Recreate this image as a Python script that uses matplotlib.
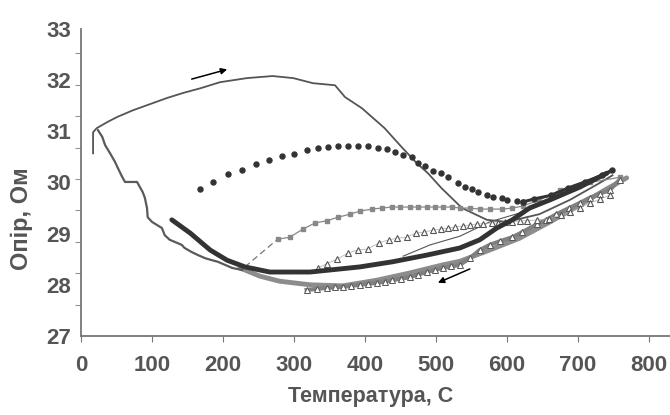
import matplotlib.pyplot as plt
from matplotlib.ticker import MultipleLocator, FixedLocator

# heating curve, thin line
heat_t = [17, 17, 22, 37, 51, 73, 97, 121, 144, 168, 196, 234, 270, 299, 327, 358,
          372, 396, 428, 452, 473, 489, 508, 537, 572, 600, 646, 689, 731, 749]
heat_r = [30.57, 30.98, 31.06, 31.18, 31.28, 31.41, 31.53, 31.65, 31.75, 31.84, 31.96,
          32.04, 32.08, 32.04, 31.94, 31.90, 31.67, 31.45, 31.06, 30.69, 30.38, 30.18,
          29.89, 29.50, 29.27, 29.23, 29.38, 29.66, 29.99, 30.14]

# jagged cooling curve down to room temperature
jag_t = [24, 30, 34, 41, 48, 52, 58, 62, 79, 83, 87, 90, 93, 94, 100, 107, 114, 118,
         125, 132, 142, 146, 156, 165, 175, 185, 193, 203, 213, 227]
jag_r = [31.02, 30.89, 30.73, 30.57, 30.40, 30.28, 30.11, 30.01, 30.01, 29.91, 29.81,
         29.70, 29.50, 29.32, 29.23, 29.17, 29.11, 28.97, 28.88, 28.84, 28.78, 28.72,
         28.64, 28.58, 28.52, 28.48, 28.45, 28.39, 28.33, 28.29]

# light grey band
band_t = [224, 252, 280, 323, 369, 417, 463, 510, 534, 576, 618, 661, 703, 738, 769]
band_r = [28.33, 28.17, 28.07, 28.00, 27.98, 28.09, 28.23, 28.39, 28.46, 28.68, 28.91,
          29.23, 29.56, 29.85, 30.09]

# dark thick curve
dark_t = [128, 154, 182, 206, 231, 266, 323, 393, 439, 487, 534, 562, 586, 608, 632,
          661, 703, 741]
dark_r = [29.27, 29.01, 28.68, 28.48, 28.35, 28.25, 28.25, 28.35, 28.45, 28.58, 28.72,
          28.88, 29.11, 29.27, 29.50, 29.66, 29.91, 30.18]

# big dots
dot_t = [168, 186, 207, 227, 246, 265, 283, 300, 318, 334, 348, 362, 376, 390, 404, 418,
         431, 442, 454, 466, 475, 485, 496, 507, 517, 531, 541, 551, 559, 572, 580, 593,
         601, 614, 623]
dot_r = [29.87, 30.01, 30.16, 30.24, 30.36, 30.44, 30.52, 30.55, 30.63, 30.67, 30.69,
         30.71, 30.71, 30.71, 30.71, 30.67, 30.65, 30.59, 30.54, 30.50, 30.38, 30.32,
         30.22, 30.18, 30.11, 29.99, 29.91, 29.87, 29.81, 29.75, 29.71, 29.70, 29.66,
         29.64, 29.62]
dot_end_t = [623, 639, 663, 686, 710, 734, 748]
dot_end_r = [29.62, 29.68, 29.75, 29.89, 30.01, 30.14, 30.24]

# small grey squares
sq_t = [231, 277, 294, 313, 330, 346, 362, 379, 393, 410, 424, 438, 449, 463, 475, 487,
        499, 510, 523, 534, 548, 562, 576, 594, 608, 623, 646, 675, 717, 759]
sq_r = [28.35, 28.89, 28.93, 29.09, 29.21, 29.25, 29.32, 29.38, 29.44, 29.48, 29.50,
        29.52, 29.52, 29.52, 29.52, 29.52, 29.52, 29.52, 29.52, 29.50, 29.50, 29.48,
        29.48, 29.48, 29.50, 29.54, 29.66, 29.85, 30.00, 30.10]

# open triangles, upper sparse run
tri_t = [334, 346, 361, 376, 390, 404, 420, 434, 446, 459, 472, 483, 496, 507, 517, 527,
         538, 548, 558, 566, 579, 587, 597, 607, 618, 628, 642, 660, 676, 689, 703, 717,
         731, 745]
tri_r = [28.33, 28.41, 28.50, 28.62, 28.68, 28.70, 28.82, 28.88, 28.91, 28.93, 29.01,
         29.03, 29.07, 29.09, 29.11, 29.13, 29.15, 29.17, 29.19, 29.19, 29.21, 29.21,
         29.23, 29.23, 29.25, 29.25, 29.27, 29.29, 29.36, 29.42, 29.50, 29.60, 29.67,
         29.75]

# open triangles, lower dense run
low_t = [318, 332, 346, 358, 369, 381, 393, 405, 417, 428, 439, 451, 463, 475, 487, 499,
         510, 522, 534, 548, 562, 576, 590, 608, 622, 642, 656, 670, 688, 703, 717, 731,
         745, 759]
low_r = [27.90, 27.92, 27.94, 27.95, 27.96, 27.98, 28.00, 28.02, 28.04, 28.06, 28.09,
         28.12, 28.15, 28.20, 28.25, 28.29, 28.33, 28.36, 28.39, 28.52, 28.68, 28.78,
         28.85, 28.93, 29.03, 29.18, 29.27, 29.38, 29.50, 29.60, 29.70, 29.78, 29.85,
         30.05]

# thin cooling line
thin_t = [749, 707, 675, 632, 576, 534, 492, 454]
thin_r = [30.20, 30.01, 29.75, 29.46, 29.23, 28.95, 28.78, 28.56]

# arrows (tail, head)
arrow_up = [(156, 32.02), (206, 32.21)]
arrow_down = [(548, 28.31), (503, 28.04)]

txt = '#555555'
plt.rcParams['font.family'] = ['Liberation Sans', 'DejaVu Sans']
plt.rcParams['font.weight'] = 'bold'

fig = plt.figure(figsize=(6.7, 4.15), dpi=100)
ax = fig.add_axes([0.1209, 0.1904, 0.879, 0.7398])

ax.plot(band_t, band_r, color='#8c8c8c', lw=3.5, solid_capstyle='round', zorder=2)
ax.plot(jag_t, jag_r, color='#5a5a5a', lw=1.6, zorder=3)
ax.plot(low_t, low_r, color='#808080', lw=3, zorder=2)
ax.plot(low_t, low_r, ls='none', marker='^', ms=4.5, mfc='white', mec='#555555',
        mew=0.7, zorder=4)
ax.plot(dark_t, dark_r, color='#333333', lw=3.5, solid_capstyle='round', zorder=5)
ax.plot(heat_t, heat_r, color='#555555', lw=1.3, zorder=3)
ax.plot(thin_t, thin_r, color='#555555', lw=0.8, zorder=3)
ax.plot(sq_t[:2], sq_r[:2], color='#777777', lw=0.9, ls=(0, (5, 3)), zorder=3)
ax.plot(sq_t[1:], sq_r[1:], color='#888888', lw=0.9, marker='s', ms=2.8, zorder=3)
ax.plot(tri_t, tri_r, color='#aaaaaa', lw=0.5, marker='^', ms=5, mfc='white',
        mec='#555555', mew=0.8, zorder=4)
ax.plot(dot_t, dot_r, ls='none', marker='o', ms=3.6, color='#333333', zorder=6)
ax.plot(dot_end_t, dot_end_r, color='#333333', lw=2.2, marker='o', ms=3.6, zorder=6)

for tail, head in (arrow_up, arrow_down):
    ax.annotate('', xy=head, xytext=tail,
                arrowprops=dict(arrowstyle='-|>', color='black', lw=1.1,
                                mutation_scale=9, shrinkA=0, shrinkB=0))

ax.set_xlim(0, 830)
ax.set_ylim(27, 33)
ax.set_xticks(range(0, 801, 100))
ax.yaxis.set_major_locator(MultipleLocator(1))
ax.yaxis.set_minor_locator(FixedLocator([27 + k * 0.6134 for k in range(1, 10)]))
ax.tick_params(axis='x', direction='out', length=4, color='#777777', labelsize=16,
               labelcolor=txt, pad=10)
ax.tick_params(axis='y', which='major', length=0, labelsize=16, labelcolor=txt, pad=7)
ax.tick_params(axis='y', which='minor', direction='out', length=4, color='#777777')

for side in ('top', 'right'):
    ax.spines[side].set_visible(False)
for side in ('left', 'bottom'):
    ax.spines[side].set_color('#777777')
    ax.spines[side].set_linewidth(1.3)

ax.set_xlabel('Температура, С', fontsize=15.5, color=txt, fontweight='bold')
ax.set_ylabel('Опір, Ом', fontsize=17, color=txt, fontweight='bold')
ax.xaxis.set_label_coords(0.492, -0.163)
ax.yaxis.set_label_coords(-0.082, 0.381)

fig.savefig('out.png', dpi=100)
